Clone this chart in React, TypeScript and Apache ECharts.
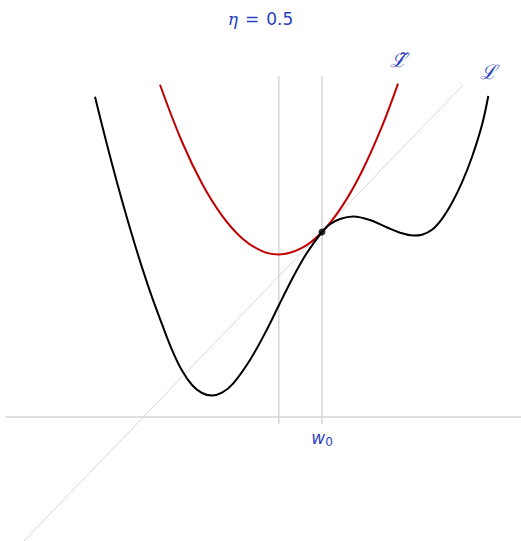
import React, { useEffect, useRef } from "react";
import * as echarts from "echarts";

// Loss curve L (black): [w, L(w)]
const lossX = [-5.675, -5.5, -5.25, -5.0, -4.75, -4.5, -4.25, -4.0, -3.75, -3.5, -3.25, -3.0, -2.758, -2.5, -2.218, -1.8, -1.383, -1.075, -0.718, -0.383, 0, 0.2, 0.45, 0.783, 1.2, 1.618, 1.95, 2.283, 2.5, 2.75, 3.0, 3.25, 3.5, 3.75, 4.0, 4.158];
const lossY = [8.008, 7.298, 6.329, 5.413, 4.549, 3.741, 2.996, 2.321, 1.68, 1.16, 0.8, 0.6, 0.538, 0.608, 0.843, 1.425, 2.175, 2.8, 3.508, 4.093, 4.625, 4.818, 4.95, 5.013, 4.925, 4.743, 4.608, 4.538, 4.558, 4.68, 4.954, 5.356, 5.868, 6.501, 7.303, 8.025];

// Surrogate quadratic L~ (red)
const surX = [-4.05, -3.5, -3, -2.5, -2, -1.5, -1.08, -0.5, 0, 0.5, 1, 1.5, 1.9];
const surY = [8.307, 6.881, 5.837, 5.034, 4.471, 4.149, 4.064, 4.226, 4.625, 5.265, 6.145, 7.266, 8.336];

// Tangent line (gray) endpoints
const tanX = [-7.45, 3.525];
const tanY = [-3.1, 8.3];

// Current point w0 and next step w0 - eta*grad
const w0 = 0;
const wNext = -1.08;
const w0Value = 4.625;
const vLineY = [-0.175, 8.525];

const titleText = "0.5";

const BLUE = "#2b3fbf";
const GRAY = "#d6d6d6";

const zip = (xs: number[], ys: number[]) => xs.map((x, i) => [x, ys[i]]);

export default function App() {
  const ref = useRef<HTMLDivElement>(null);
  useEffect(() => {
    document.body.style.margin = "0";
    const chart = echarts.init(ref.current!, null, { renderer: "svg" });
    chart.setOption({
      animation: false,
      backgroundColor: "#ffffff",
      title: {
        text: "{i|η}{e|=}{n|" + titleText + "}",
        left: "center",
        top: 5,
        textStyle: {
          color: BLUE,
          fontSize: 17,
          fontWeight: "normal",
          fontFamily: "DejaVu Sans",
          rich: {
            i: { color: BLUE, fontSize: 17, fontStyle: "italic", fontFamily: "DejaVu Serif" },
            e: { color: BLUE, fontSize: 17, fontFamily: "DejaVu Sans", padding: [0, 7, 0, 7] },
            n: { color: BLUE, fontSize: 17, fontFamily: "DejaVu Sans" },
          },
        },
      },
      grid: { left: 6, right: 0, top: 41, bottom: 0 },
      xAxis: {
        type: "value",
        min: -7.9,
        max: 4.975,
        axisLine: { show: true, onZero: true, lineStyle: { color: GRAY, width: 1.5 } },
        axisTick: { show: false },
        axisLabel: { show: false },
        splitLine: { show: false },
      },
      yAxis: {
        type: "value",
        min: -3.1,
        max: 9.4,
        axisLine: { show: false },
        axisTick: { show: false },
        axisLabel: { show: false },
        splitLine: { show: false },
      },
      series: [
        {
          type: "line",
          data: zip(tanX, tanY),
          symbol: "none",
          lineStyle: { color: GRAY, width: 1 },
          silent: true,
        },
        {
          type: "line",
          data: [[w0, vLineY[0]], [w0, vLineY[1]]],
          symbol: "none",
          lineStyle: { color: GRAY, width: 1.5 },
          silent: true,
        },
        {
          type: "line",
          data: [[wNext, vLineY[0]], [wNext, vLineY[1]]],
          symbol: "none",
          lineStyle: { color: GRAY, width: 1.5 },
          silent: true,
        },
        {
          type: "line",
          data: zip(surX, surY),
          smooth: 0.4,
          symbol: "none",
          lineStyle: { color: "#c00000", width: 2 },
        },
        {
          type: "line",
          data: zip(lossX, lossY),
          smooth: 0.35,
          symbol: "none",
          lineStyle: { color: "#000000", width: 2 },
        },
        {
          type: "scatter",
          data: [[w0, w0Value]],
          symbolSize: 7,
          itemStyle: { color: "#000000" },
          z: 5,
        },
      ],
      graphic: [
        {
          type: "text",
          x: 398,
          y: 60,
          style: {
            text: "ℒ\u0303",
            fill: BLUE,
            fontSize: 20,
            fontStyle: "italic",
            fontFamily: "DejaVu Serif",
            align: "center",
            verticalAlign: "middle",
          },
        },
        {
          type: "text",
          x: 488,
          y: 72,
          style: {
            text: "ℒ",
            fill: BLUE,
            fontSize: 20,
            fontStyle: "italic",
            fontFamily: "DejaVu Serif",
            align: "center",
            verticalAlign: "middle",
          },
        },
        {
          type: "text",
          x: 322,
          y: 438,
          style: {
            text: "{w|w}{s|0}",
            align: "center",
            verticalAlign: "middle",
            rich: {
              w: { fill: BLUE, fontSize: 17, fontStyle: "italic", fontFamily: "DejaVu Sans" },
              s: { fill: BLUE, fontSize: 12, fontFamily: "DejaVu Sans", padding: [8, 0, 0, 0] },
            },
          },
        },
      ],
    });
    return () => chart.dispose();
  }, []);
  return <div ref={ref} style={{ width: 521, height: 541 }} />;
}
